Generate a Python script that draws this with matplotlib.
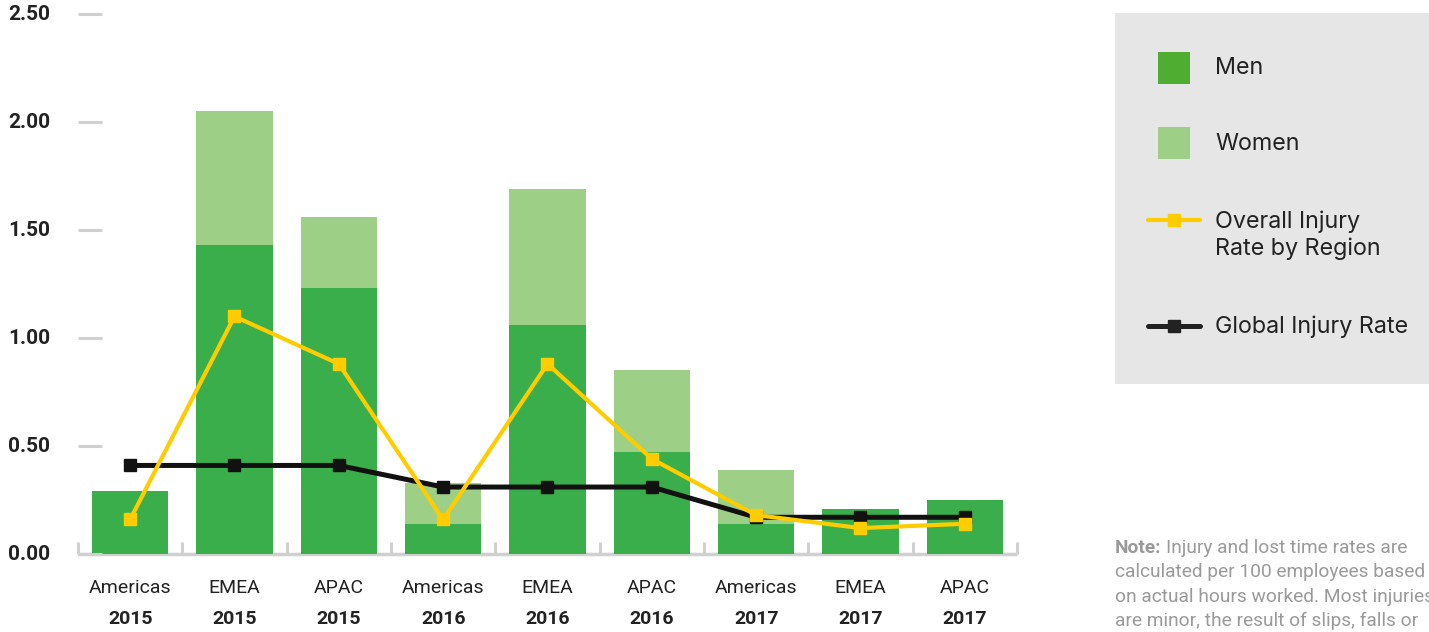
import matplotlib
matplotlib.use("Agg")
import matplotlib.pyplot as plt
from matplotlib.patches import Rectangle
from matplotlib.lines import Line2D
from matplotlib.transforms import blended_transform_factory
import numpy as np

# ---- data ----
regions = ["Americas", "EMEA", "APAC", "Americas", "EMEA", "APAC", "Americas", "EMEA", "APAC"]
years = ["2015", "2015", "2015", "2016", "2016", "2016", "2017", "2017", "2017"]
men = [0.29, 1.43, 1.23, 0.14, 1.06, 0.47, 0.14, 0.21, 0.25]
women = [0.00, 0.62, 0.33, 0.19, 0.63, 0.38, 0.25, 0.00, 0.00]
overall_rate = [0.16, 1.10, 0.88, 0.16, 0.88, 0.44, 0.18, 0.12, 0.14]
global_rate = [0.41, 0.41, 0.41, 0.31, 0.31, 0.31, 0.17, 0.17, 0.17]
y_ticks = [0.0, 0.5, 1.0, 1.5, 2.0, 2.5]
y_tick_labels = ["0.00", "0.50", "1.00", "1.50", "2.00", "2.50"]

MEN_C = "#3aae4a"
WOMEN_C = "#9ecf87"
YELLOW = "#ffcc00"
BLACK = "#111111"
AXIS_GRAY = "#d0d0d0"
TEXT_C = "#222222"

W, H = 1429, 632
fig = plt.figure(figsize=(W / 100, H / 100), dpi=100)
ax = fig.add_axes([78 / W, (H - 554) / H, (1017 - 78) / W, (554 - 14) / H])
ax.set_xlim(-0.5, len(regions) - 0.5)
ax.set_ylim(0, 2.5)
ax.axis("off")

x = np.arange(len(regions))
ax.bar(x, men, width=0.73, color=MEN_C, zorder=2)
ax.bar(x, women, width=0.73, bottom=men, color=WOMEN_C, zorder=2)

ax.plot(x, global_rate, color=BLACK, lw=3.6, marker="s", ms=9, zorder=3,
        solid_joinstyle="round")
ax.plot(x, overall_rate, color=YELLOW, lw=3.0, marker="s", ms=9, zorder=4,
        solid_joinstyle="round")

# baseline and category separators
ax.plot([-0.5, len(regions) - 0.5], [0, 0], color=AXIS_GRAY, lw=2.5,
        clip_on=False, zorder=1, solid_capstyle="butt")
for b in np.arange(-0.5, len(regions), 1.0):
    ax.plot([b, b], [0, 0.055], color=AXIS_GRAY, lw=2.2, clip_on=False,
            zorder=1, solid_capstyle="butt")

# y-axis labels and short dashes
ylab_tr = blended_transform_factory(fig.transFigure, ax.transData)
for v, lab in zip(y_ticks, y_tick_labels):
    ax.text(8 / W, v, lab, transform=ylab_tr, ha="left", va="center",
            fontsize=15, fontweight="bold", family="Roboto", color=TEXT_C)
    ax.plot([78 / W, 102 / W], [v, v], transform=ylab_tr, color=AXIS_GRAY,
            lw=2.2, clip_on=False, solid_capstyle="butt")

# category labels
xlab_tr = blended_transform_factory(ax.transData, fig.transFigure)
for i, (r, yv) in enumerate(zip(regions, years)):
    ax.text(i, (H - 588) / H, r, transform=xlab_tr, ha="center", va="center",
            fontsize=14, family="Roboto", color=TEXT_C)
    ax.text(i, (H - 619) / H, yv, transform=xlab_tr, ha="center", va="center",
            fontsize=14, fontweight="bold", family="Roboto", color=TEXT_C)


def fy(py):
    return (H - py) / H


# legend panel
fig.patches.append(Rectangle((1115 / W, fy(384)), (W - 1115) / W, (384 - 13) / H,
                             transform=fig.transFigure, facecolor="#e6e6e6",
                             edgecolor="none", zorder=0))
fig.patches.append(Rectangle((1158 / W, fy(84)), 32 / W, 32 / H, transform=fig.transFigure,
                             facecolor="#4fae32", edgecolor="none"))
fig.patches.append(Rectangle((1158 / W, fy(159)), 32 / W, 32 / H, transform=fig.transFigure,
                             facecolor=WOMEN_C, edgecolor="none"))
fig.lines.append(Line2D([1148 / W, 1200 / W], [fy(220), fy(220)], transform=fig.transFigure,
                        color=YELLOW, lw=3.0, solid_capstyle="round"))
fig.lines.append(Line2D([1174 / W], [fy(220)], transform=fig.transFigure, color=YELLOW,
                        marker="s", ms=9, lw=0))
fig.lines.append(Line2D([1148 / W, 1200 / W], [fy(326), fy(326)], transform=fig.transFigure,
                        color="#222222", lw=3.6, solid_capstyle="round"))
fig.lines.append(Line2D([1174 / W], [fy(326)], transform=fig.transFigure, color="#222222",
                        marker="s", ms=9, lw=0))

leg_font = dict(fontsize=16.8, family="Inter", color=TEXT_C, ha="left", va="center")
fig.text(1215 / W, fy(68), "Men", **leg_font)
fig.text(1215 / W, fy(144), "Women", **leg_font)
fig.text(1215 / W, fy(222), "Overall Injury", **leg_font)
fig.text(1215 / W, fy(249), "Rate by Region", **leg_font)
fig.text(1215 / W, fy(327), "Global Injury Rate", **leg_font)

# footnote
NOTE_C = "#9a9a9a"
note_font = dict(fontsize=13.8, family="Roboto", color=NOTE_C, ha="left", va="center")
note_head = fig.text(1115 / W, fy(548), "Note:", fontweight="bold", **note_font)
fig.canvas.draw()
head_ext = note_head.get_window_extent()
fig.text((head_ext.x1 + 4) / W, fy(548), "Injury and lost time rates are", **note_font)
fig.text(1115 / W, fy(572), "calculated per 100 employees based", **note_font)
fig.text(1115 / W, fy(597), "on actual hours worked. Most injuries", **note_font)
fig.text(1115 / W, fy(621), "are minor, the result of slips, falls or", **note_font)

fig.savefig("out.png", dpi=100)
